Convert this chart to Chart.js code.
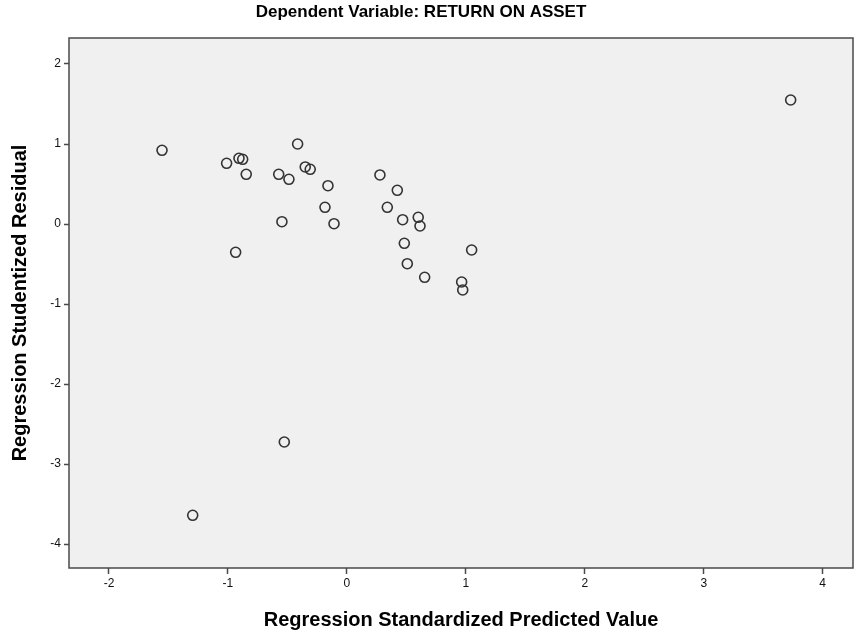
<!DOCTYPE html>
<html>
<head>
<meta charset="utf-8">
<script src="https://cdn.jsdelivr.net/npm/chart.js@4"></script>
<style>
  html, body { margin: 0; padding: 0; background: #ffffff; }
  #wrap { width: 854px; height: 638px; }
</style>
</head>
<body>
<div id="wrap"><canvas id="residualChart" width="854" height="638"></canvas></div>
<script>
// Values (SPSS residual plot)
const predictedValues = [
    -1.554, -1.011, -0.907, -0.876, -0.846, -0.414, -0.573, -0.487, -0.350, -0.308,
    -0.159, -0.184, -0.108, -0.546, -0.935, -0.526, -1.296, 0.278, 0.424, 0.340,
    0.469, 0.600, 0.615, 0.483, 0.508, 0.654, 1.049, 0.965, 0.974, 3.731
];
const studentizedResiduals = [
    0.921, 0.759, 0.821, 0.809, 0.621, 1.000, 0.621, 0.559, 0.713, 0.684,
    0.479, 0.209, 0.004, 0.029, -0.354, -2.725, -3.641, 0.613, 0.421, 0.209,
    0.054, 0.084, -0.025, -0.241, -0.496, -0.666, -0.325, -0.725, -0.825, 1.550
];
const xTicks = [-2, -1, 0, 1, 2, 3, 4];
const yTicks = [2, 1, 0, -1, -2, -3, -4];

const chartTitle = 'Dependent Variable: RETURN ON ASSET';
const xAxisTitle = 'Regression Standardized Predicted Value';
const yAxisTitle = 'Regression Studentized Residual';

const fontFamily = '"Liberation Sans", Arial, sans-serif';

// grey plot background, frame and title text
const plotFrame = {
    id: 'plotFrame',
    beforeDraw(chart) {
        const { ctx, chartArea: a } = chart;
        ctx.save();
        ctx.fillStyle = '#f0f0f0';
        ctx.fillRect(a.left, a.top, a.right - a.left, a.bottom - a.top);
        ctx.restore();
    },
    afterDraw(chart) {
        const { ctx, chartArea: a } = chart;
        ctx.save();
        ctx.strokeStyle = '#4a4a4a';
        ctx.lineWidth = 1.5;
        ctx.strokeRect(a.left, a.top, a.right - a.left, a.bottom - a.top);
        ctx.fillStyle = '#000000';
        ctx.font = 'bold 17px ' + fontFamily;
        ctx.textAlign = 'center';
        ctx.textBaseline = 'middle';
        ctx.fillText(chartTitle, 421, 12);
        ctx.restore();
    }
};

const points = predictedValues.map((x, i) => ({ x: x, y: studentizedResiduals[i] }));

const residualChart = new Chart(document.getElementById('residualChart'), {
    type: 'scatter',
    data: {
        datasets: [{
            data: points,
            pointRadius: 5,
            pointHoverRadius: 5,
            pointBorderWidth: 1.6,
            pointBorderColor: '#333333',
            pointBackgroundColor: 'rgba(0,0,0,0)'
        }]
    },
    options: {
        responsive: false,
        animation: false,
        layout: {
            autoPadding: false,
            padding: { top: 38, right: 1, left: 0, bottom: 0 }
        },
        plugins: {
            legend: { display: false },
            tooltip: { enabled: false },
            title: { display: false }
        },
        scales: {
            x: {
                type: 'linear',
                min: -2.336,
                max: 4.255,
                afterBuildTicks: function(scale) {
                    scale.ticks = xTicks.map(v => ({ value: v }));
                },
                afterFit: function(scale) {
                    scale.height = 70;
                    scale.paddingLeft = 0;
                    scale.paddingRight = 0;
                },
                grid: {
                    drawOnChartArea: false,
                    drawTicks: true,
                    tickLength: 6,
                    tickWidth: 1.5,
                    tickColor: '#4a4a4a'
                },
                border: { display: false },
                ticks: {
                    color: '#111111',
                    padding: 2,
                    font: { family: fontFamily, size: 12 }
                },
                title: {
                    display: true,
                    text: xAxisTitle,
                    color: '#000000',
                    padding: { top: 0, bottom: 6 },
                    font: { family: fontFamily, size: 20, weight: 'bold' }
                }
            },
            y: {
                type: 'linear',
                min: -4.3,
                max: 2.325,
                afterBuildTicks: function(scale) {
                    scale.ticks = yTicks.map(v => ({ value: v }));
                },
                afterFit: function(scale) {
                    scale.width = 69;
                    scale.paddingTop = 0;
                    scale.paddingBottom = 0;
                },
                grid: {
                    drawOnChartArea: false,
                    drawTicks: true,
                    tickLength: 5,
                    tickWidth: 1.5,
                    tickColor: '#4a4a4a'
                },
                border: { display: false },
                ticks: {
                    color: '#111111',
                    padding: 3,
                    font: { family: fontFamily, size: 12 }
                },
                title: {
                    display: true,
                    text: yAxisTitle,
                    color: '#000000',
                    padding: { top: 8, bottom: 0 },
                    font: { family: fontFamily, size: 20, weight: 'bold' }
                }
            }
        }
    },
    plugins: [plotFrame]
});
</script>
</body>
</html>
